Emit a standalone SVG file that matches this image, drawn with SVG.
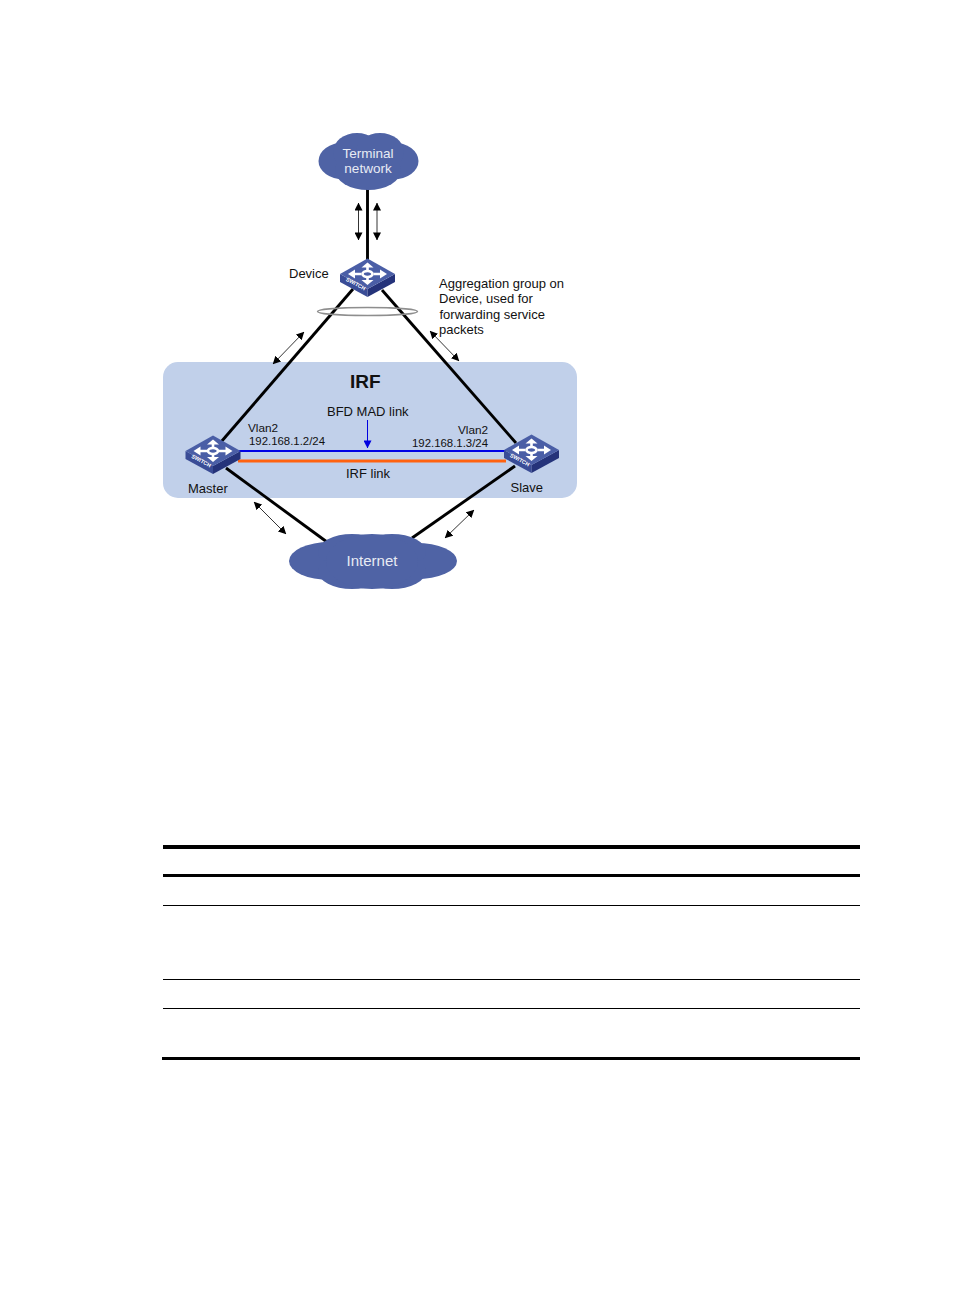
<svg xmlns="http://www.w3.org/2000/svg" width="954" height="1296" viewBox="0 0 954 1296">
  <style>
    text { font-family: "Liberation Sans", Arial, sans-serif; font-size: 13px; fill: #111; }
    .cloud { fill: #4f63a5; }
    .onblue { fill: #e8ebf4; }
    .small { font-size: 11.4px; }
    .vlan { font-size: 11.8px; }
    .link { stroke: #000; stroke-width: 2.9; fill: none; }
    .flow { stroke: #000; stroke-width: 0.8; fill: none; marker-start: url(#tipStart); marker-end: url(#tip); }
    .rule { stroke: #000; fill: none; }
  </style>
  <defs>
    <marker id="tip" viewBox="0 0 10 10" refX="9.5" refY="5" markerWidth="8" markerHeight="8" markerUnits="userSpaceOnUse" orient="auto">
      <path d="M0 0 L10 5 L0 10 Z" fill="#000"/>
    </marker>
    <marker id="tipStart" viewBox="0 0 10 10" refX="0.5" refY="5" markerWidth="8" markerHeight="8" markerUnits="userSpaceOnUse" orient="auto">
      <path d="M10 0 L0 5 L10 10 Z" fill="#000"/>
    </marker>
    <marker id="blueTip" viewBox="0 0 10 10" refX="9.5" refY="5" markerWidth="8" markerHeight="8" markerUnits="userSpaceOnUse" orient="auto">
      <path d="M0 0 L10 5 L0 10 Z" fill="#0000e0"/>
    </marker>
    <g id="switchIcon">
      <path d="M-27.5 -3 L0 12 L0 20 L-27.5 5 Z" fill="#3a4c96"/>
      <path d="M27.5 -3 L0 12 L0 20 L27.5 5 Z" fill="#25337a"/>
      <path d="M0 -18.500 L27.500 -3 L0 12 L-27.500 -3 Z" fill="#4a5ea6"/>
      <g fill="none" stroke="#fff" stroke-width="2.6">
        <ellipse cx="0" cy="-3" rx="5" ry="3"/>
        <path d="M-6 -3 H-15 M6 -3 H15 M0 -6 V-10 M0 0 V4"/>
      </g>
      <g fill="#fff">
        <path d="M-19.500 -3 L-12.500 -7.500 L-12.500 1.500 Z"/>
        <path d="M19.500 -3 L12.500 -7.500 L12.500 1.500 Z"/>
        <path d="M0 -14.500 L-6 -9.500 L6 -9.500 Z"/>
        <path d="M0 8 L-6 3 L6 3 Z"/>
      </g>
      <text transform="translate(-22 3.4) rotate(28.6)" style="font-size:5.4px;font-weight:bold;fill:#fff">SWITCH</text>
    </g>
  </defs>

  <rect width="954" height="1296" fill="#fff"/>

  <g id="irf-domain">
    <rect x="163" y="362" width="414" height="136" rx="15" fill="#c1d0ea"/>
    <text x="350" y="388" style="font-size:19px;font-weight:bold">IRF</text>
  </g>

  <g id="connectors">
    <path class="link" d="M367.5 189 V260"/>
    <path class="link" d="M353 289 L221 442"/>
    <path class="link" d="M382 290 L516 443"/>
    <path class="link" d="M226 468 L327 542"/>
    <path class="link" d="M515 466 L412 538"/>
    <path d="M238 451 H506" stroke="#0000e6" stroke-width="2" fill="none"/>
    <path d="M238 461 H506" stroke="#ff6210" stroke-width="3" fill="none"/>
    <path d="M367.500 420 V448" stroke="#0000e0" stroke-width="1" fill="none" marker-end="url(#blueTip)"/>
    <path class="flow" d="M358.500 203 V240"/>
    <path class="flow" d="M377 203 V240"/>
    <path class="flow" d="M273 364 L304 332"/>
    <path class="flow" d="M430 331 L459 361"/>
    <path class="flow" d="M254 502 L286 534"/>
    <path class="flow" d="M445 538 L474 510"/>
  </g>

  <g id="aggregation-group">
    <ellipse cx="367.500" cy="311.500" rx="50" ry="4" fill="none" stroke="#8e8e8e" stroke-width="1.5"/>
    <text x="439" y="288">Aggregation group on</text>
    <text x="439" y="303">Device, used for</text>
    <text x="439.500" y="319">forwarding service</text>
    <text x="439" y="334">packets</text>
  </g>

  <g id="terminal-network">
    <g class="cloud">
      <ellipse cx="343.500" cy="161" rx="25" ry="18.500"/>
      <ellipse cx="393.500" cy="161" rx="25" ry="18.500"/>
      <ellipse cx="357" cy="152" rx="24" ry="19"/>
      <ellipse cx="380" cy="152" rx="24" ry="19"/>
      <ellipse cx="368" cy="170" rx="33" ry="20"/>
    </g>
    <text class="onblue" x="368" y="158" text-anchor="middle" style="font-size:13.500px">Terminal</text>
    <text class="onblue" x="368" y="173" text-anchor="middle" style="font-size:13.500px">network</text>
  </g>

  <g id="internet">
    <g class="cloud">
      <ellipse cx="330" cy="561" rx="41" ry="19"/>
      <ellipse cx="416" cy="561" rx="41" ry="18"/>
      <ellipse cx="352" cy="552" rx="34" ry="18"/>
      <ellipse cx="392" cy="552" rx="34" ry="18"/>
      <ellipse cx="352" cy="571" rx="34" ry="18"/>
      <ellipse cx="392" cy="571" rx="34" ry="18"/>
      <ellipse cx="372" cy="561.500" rx="46" ry="27.500"/>
    </g>
    <text class="onblue" x="372" y="566" text-anchor="middle" style="font-size:15px">Internet</text>
  </g>

  <g id="device">
    <use href="#switchIcon" x="367.500" y="277"/>
    <text x="289" y="278">Device</text>
  </g>

  <g id="master">
    <use href="#switchIcon" x="213" y="454"/>
    <text x="188" y="493">Master</text>
    <text class="vlan" x="248" y="432">Vlan2</text>
    <text class="small" x="249" y="445">192.168.1.2/24</text>
  </g>

  <g id="slave">
    <use href="#switchIcon" x="531.500" y="453"/>
    <text x="510.500" y="492">Slave</text>
    <text class="vlan" x="458" y="434">Vlan2</text>
    <text class="small" x="412" y="447">192.168.1.3/24</text>
  </g>

  <g id="link-labels">
    <text x="327" y="416">BFD MAD link</text>
    <text x="346" y="478">IRF link</text>
  </g>

  <g id="table-rules">
    <path class="rule" d="M163 847 H860" stroke-width="4"/>
    <path class="rule" d="M163 875.500 H860" stroke-width="3"/>
    <path class="rule" d="M163 905.500 H860" stroke-width="1"/>
    <path class="rule" d="M163 979.500 H860" stroke-width="1"/>
    <path class="rule" d="M163 1008.500 H860" stroke-width="1"/>
    <path class="rule" d="M162 1058.500 H860" stroke-width="3"/>
  </g>
</svg>
